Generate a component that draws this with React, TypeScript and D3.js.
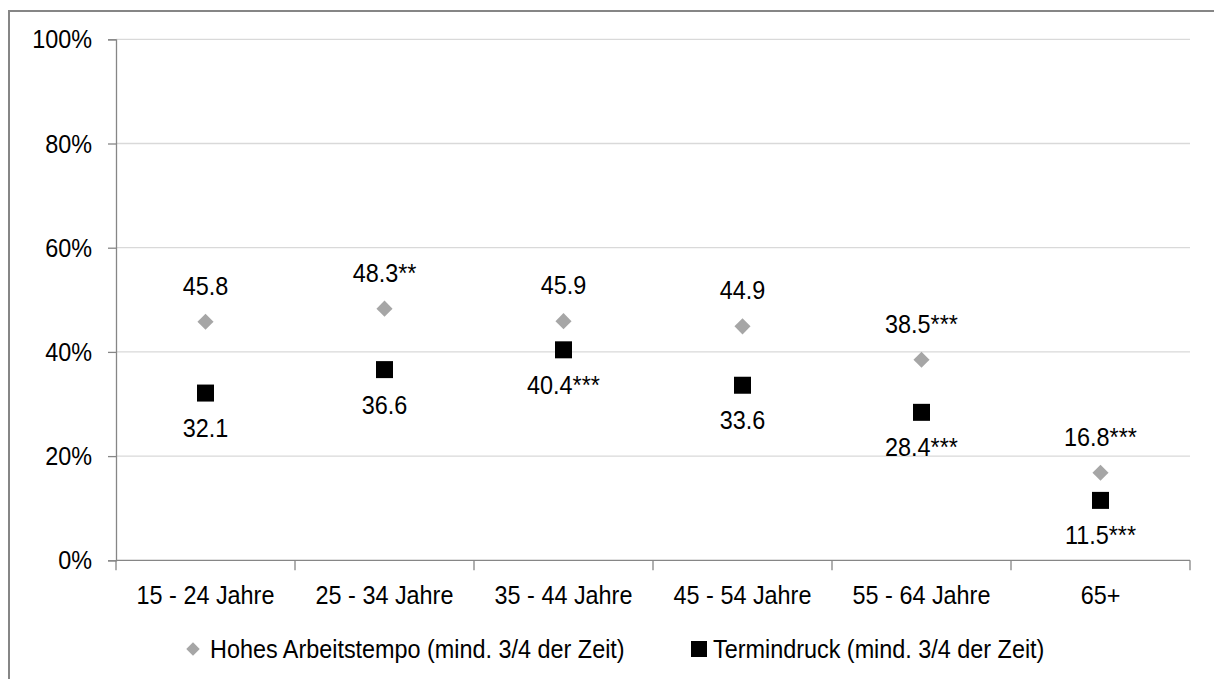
import { useEffect, useRef } from "react";
import * as d3 from "d3";

const categories = ["15 - 24 Jahre", "25 - 34 Jahre", "35 - 44 Jahre", "45 - 54 Jahre", "55 - 64 Jahre", "65+"];
const tempoValues = [45.8, 48.3, 45.9, 44.9, 38.5, 16.8];
const tempoStars = ["", "**", "", "", "***", "***"];
const terminValues = [32.1, 36.6, 40.4, 33.6, 28.4, 11.5];
const terminStars = ["", "", "***", "", "***", "***"];
const yTicks = [0, 20, 40, 60, 80, 100];
const legendLabels = ["Hohes Arbeitstempo (mind. 3/4 der Zeit)", "Termindruck (mind. 3/4 der Zeit)"];

const W = 1214;
const H = 679;
const FONT = "'Liberation Sans', Arial, sans-serif";
const FS = 26; // font size, squeezed horizontally like the narrow original
const SX = 0.9;

type Sel = d3.Selection<any, unknown, null, undefined>;

function label(g: Sel, x: number, y: number, str: string, anchor = "middle") {
  g.append("text")
    .attr("transform", `translate(${x},${y}) scale(${SX},1)`)
    .attr("text-anchor", anchor)
    .attr("font-size", `${FS}px`)
    .attr("font-family", FONT)
    .attr("fill", "#000")
    .text(str);
}

export default function App() {
  const svgRef = useRef<SVGSVGElement>(null);

  useEffect(() => {
    if (!svgRef.current) return;
    const svg = d3.select(svgRef.current);
    svg.selectAll("*").remove();

    const left = 116, right = 1190, top = 39.3, bottom = 560.3;
    const x = d3.scaleBand<string>().domain(categories).range([left, right]);
    const y = d3.scaleLinear().domain([0, 100]).range([bottom, top]);
    const axisColor = "#868686";

    svg.append("rect").attr("width", W).attr("height", H).attr("fill", "#fff");
    // outer chart frame (right/bottom edges fall outside the picture)
    svg.append("rect").attr("x", 9).attr("y", 11).attr("width", W + 20).attr("height", H + 20)
      .attr("fill", "none").attr("stroke", axisColor).attr("stroke-width", 2);

    // gridlines
    svg.append("g").selectAll("line")
      .data(yTicks.filter((t) => t > 0))
      .enter().append("line")
      .attr("x1", left).attr("x2", right)
      .attr("y1", (d) => y(d)).attr("y2", (d) => y(d))
      .attr("stroke", "#d9d9d9").attr("stroke-width", 1.3);

    // y axis
    const yAxis = svg.append("g").attr("transform", `translate(${left},0)`)
      .call(d3.axisLeft(y).tickValues(yTicks).tickSize(8).tickFormat(() => ""));
    yAxis.select(".domain").attr("stroke", axisColor).attr("stroke-width", 1.3);
    yAxis.selectAll(".tick line").attr("stroke", axisColor).attr("stroke-width", 1.3);
    const yl = svg.append("g");
    yTicks.forEach((t) => label(yl, 92, y(t) + 9, `${t}%`, "end"));

    // x axis
    const xAxis = svg.append("g").attr("transform", `translate(0,${bottom})`);
    xAxis.append("line").attr("x1", left).attr("x2", right)
      .attr("stroke", axisColor).attr("stroke-width", 1.3);
    const bounds = categories.map((c) => x(c)!).concat([right]);
    xAxis.selectAll("line.tk").data(bounds).enter().append("line").attr("class", "tk")
      .attr("x1", (d) => d).attr("x2", (d) => d).attr("y1", 0).attr("y2", 10)
      .attr("stroke", axisColor).attr("stroke-width", 1.3);
    categories.forEach((c) => label(xAxis, x(c)! + x.bandwidth() / 2, 44, c));

    const cx = (i: number) => x(categories[i])! + x.bandwidth() / 2;
    const diamond = d3.symbol().type(d3.symbolDiamond2).size(165);

    // Hohes Arbeitstempo
    svg.append("g").selectAll("path").data(tempoValues).enter().append("path")
      .attr("d", diamond)
      .attr("transform", (d, i) => `translate(${cx(i)},${y(d)})`)
      .attr("fill", "#a6a6a6");
    const tl = svg.append("g");
    tempoValues.forEach((d, i) => label(tl, cx(i), y(d) - 27, d.toFixed(1) + tempoStars[i]));

    // Termindruck
    const sq = 17;
    svg.append("g").selectAll("rect").data(terminValues).enter().append("rect")
      .attr("x", (d, i) => cx(i) - sq / 2).attr("y", (d) => y(d) - sq / 2)
      .attr("width", sq).attr("height", sq).attr("fill", "#000");
    const ml = svg.append("g");
    terminValues.forEach((d, i) => label(ml, cx(i), y(d) + 44, d.toFixed(1) + terminStars[i]));

    // legend
    const lg = svg.append("g");
    lg.append("path").attr("d", d3.symbol().type(d3.symbolDiamond2).size(115)())
      .attr("transform", "translate(193,649)").attr("fill", "#a6a6a6");
    label(lg, 210, 658, legendLabels[0], "start");
    lg.append("rect").attr("x", 691).attr("y", 641).attr("width", 16).attr("height", 16).attr("fill", "#000");
    label(lg, 713, 658, legendLabels[1], "start");
  }, []);

  return (
    <svg ref={svgRef} width={W} height={H}
      style={{ position: "absolute", left: 0, top: 0, display: "block" }} />
  );
}
